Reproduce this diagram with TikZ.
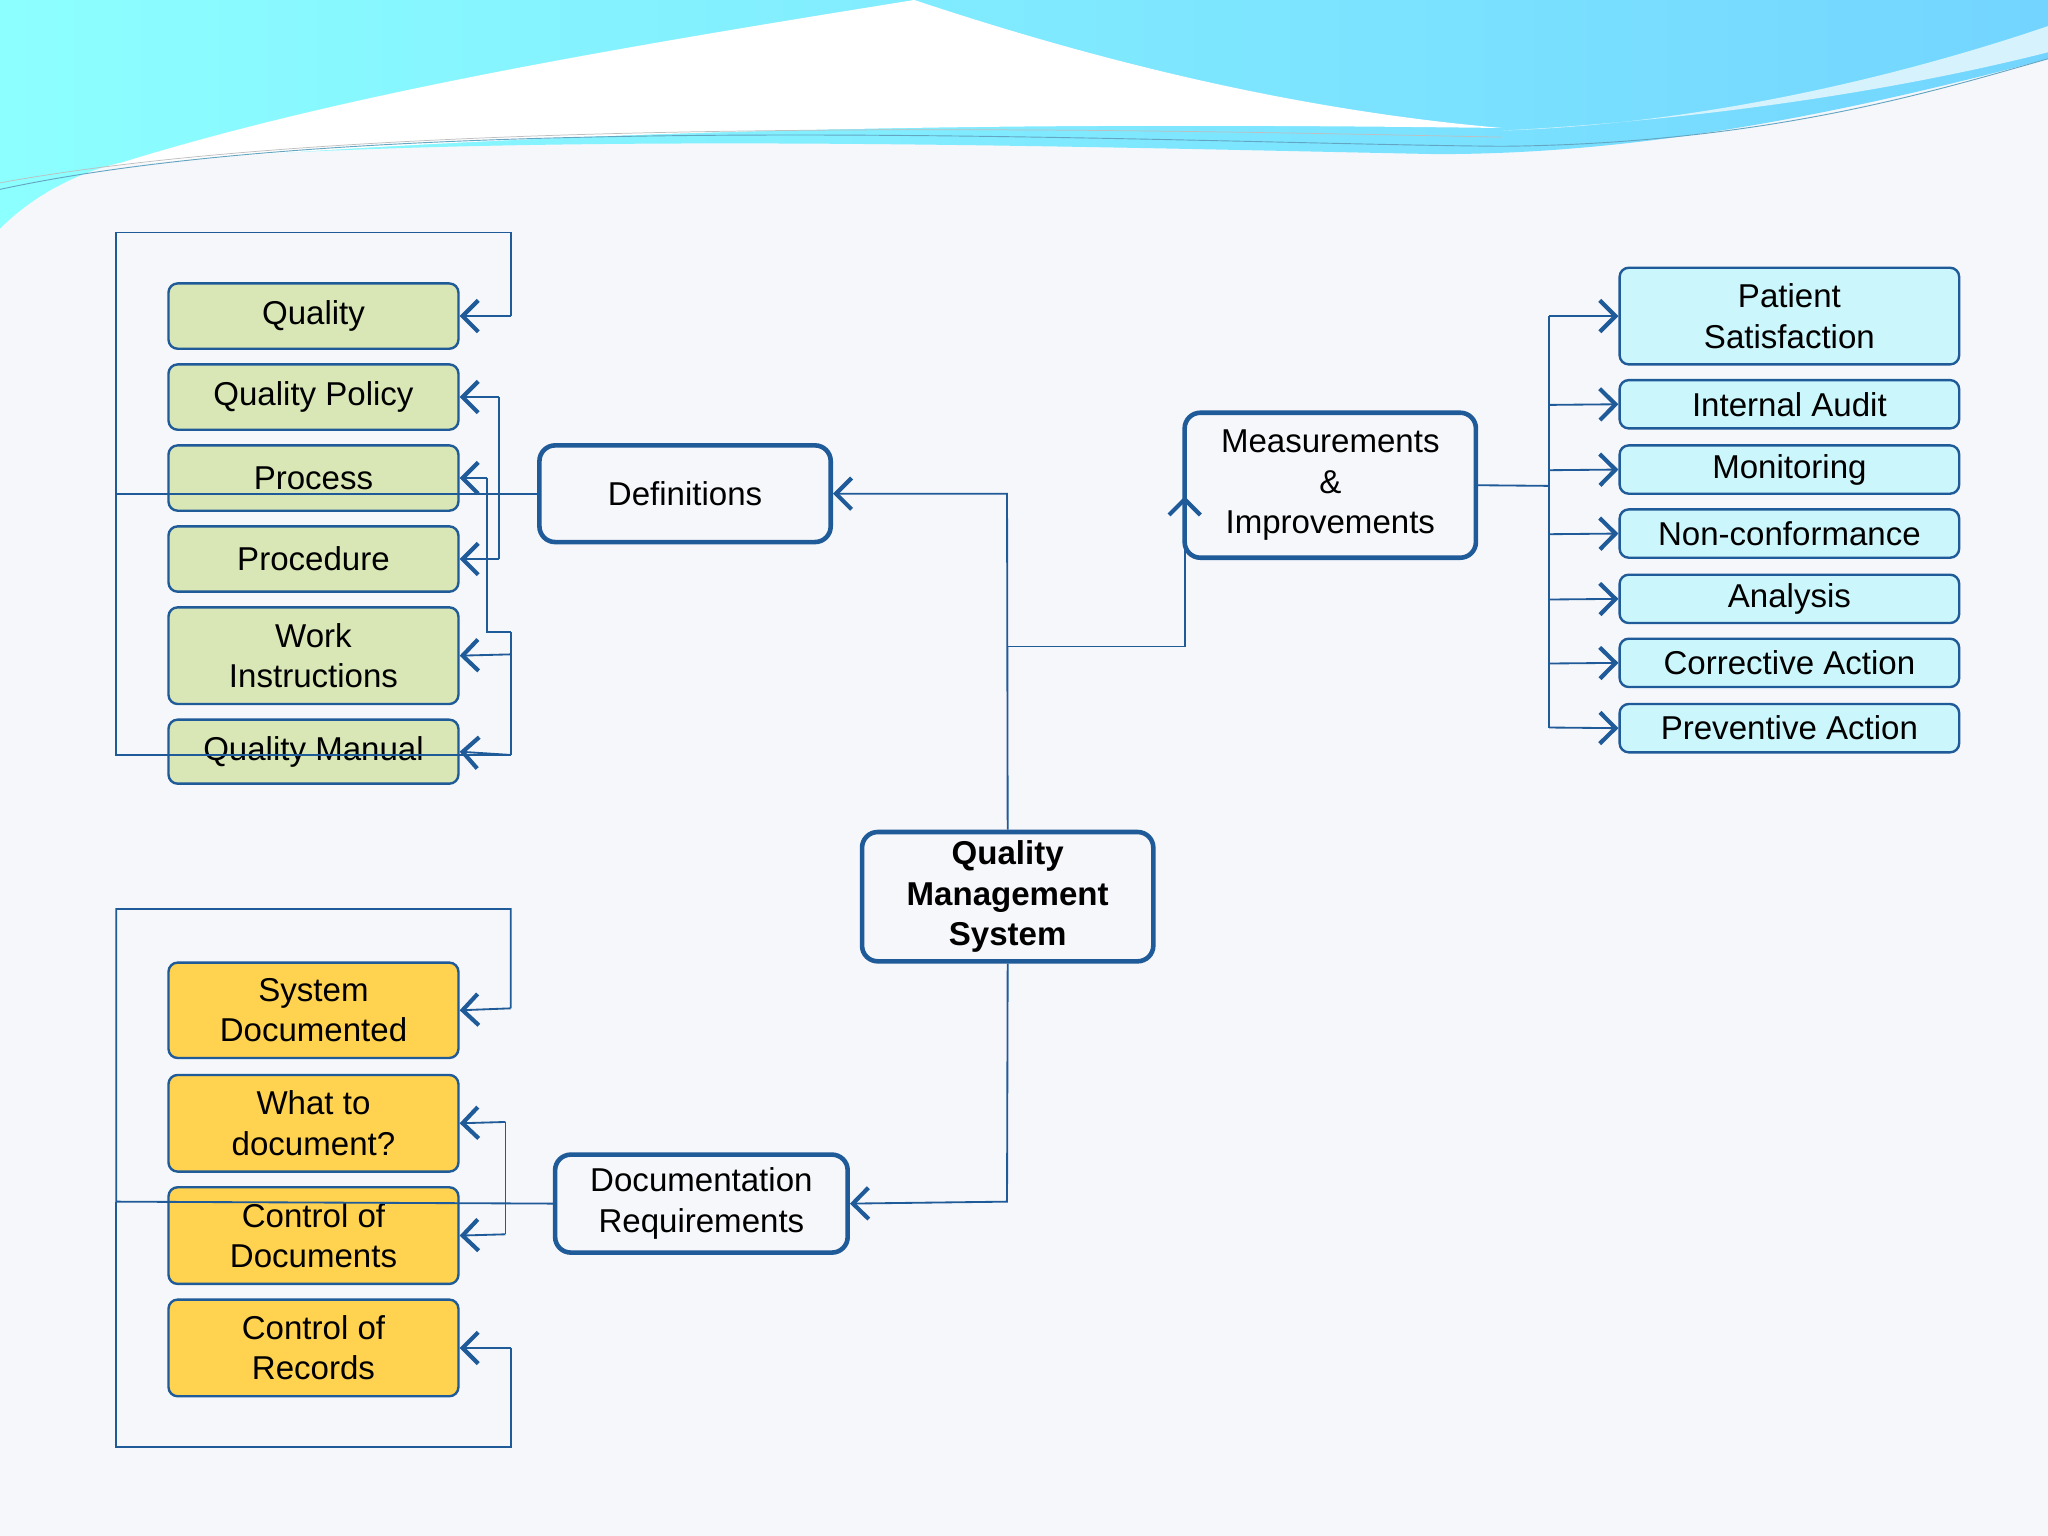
\documentclass[tikz,border=0pt]{standalone}
\usepackage{fontspec}
\setmainfont{Liberation Sans}
\usetikzlibrary{arrows.meta}
\definecolor{ln}{HTML}{1F5A99}
\definecolor{gr}{HTML}{D9E6B5}
\definecolor{yl}{HTML}{FFD24F}
\definecolor{cy}{HTML}{CBF6FB}
\definecolor{bg}{HTML}{F6F7FA}
\newcommand\bx[7]{\node[#6, minimum width={(#4-#2)*0.05cm}, minimum height={(#5-#3)*0.05cm}] (#1) at ({(#2+#4)/2},{(#3+#5)/2}) {#7};}
\begin{document}
\begin{tikzpicture}[x=0.05cm,y=-0.05cm,
  every node/.style={font=\fontsize{36}{44}\selectfont, align=center, inner sep=0pt},
  sb/.style={draw=ln, line width=2.6pt, rounded corners=0.35cm},
  gb/.style={sb, fill=gr}, yb/.style={sb, fill=yl}, cb/.style={sb, fill=cy},
  mb/.style={draw=ln, line width=5pt, rounded corners=0.6cm, fill=bg},
  qb/.style={mb, font=\fontsize{36}{44}\selectfont\bfseries},
  cn/.style={draw=ln, line width=2pt},
  ar/.style={cn, -{Straight Barb[length=0.6cm,width=1.2cm,line width=4.5pt]}}]
\useasboundingbox (0,0) rectangle (1568,1176);
\fill[bg] (0,0) rectangle (1568,1176);
% top wave
\shade[left color=cyan!45, right color=blue!30!cyan!55] (0,0) -- (1568,0) -- (1568,45)
  .. controls (1400,90) and (1250,118) .. (1100,118)
  .. controls (800,112) and (400,100) .. (90,125)
  .. controls (50,135) and (20,155) .. (0,175) -- cycle;
\fill[white] (700,0) .. controls (850,50) and (1000,85) .. (1150,98)
  .. controls (900,95) and (500,92) .. (85,127)
  .. controls (250,75) and (450,40) .. (700,0) -- cycle;
\fill[white!60!cyan!40] (1568,20) .. controls (1450,60) and (1300,95) .. (1150,100) .. controls (1300,92) and (1450,70) .. (1568,40) -- cycle;
\draw[cyan!50!gray, line width=1pt] (0,145) .. controls (300,80) and (900,110) .. (1150,112) .. controls (1350,110) and (1480,70) .. (1568,45);
\draw[gray!50, line width=0.8pt] (0,140) .. controls (300,85) and (900,100) .. (1150,105);

% left green
\bx{qa}{129}{217}{351}{267}{gb}{Quality}
\bx{qp}{129}{279}{351}{329}{gb}{Quality Policy}
\bx{pr}{129}{341}{351}{391}{gb}{Process}
\bx{pd}{129}{403}{351}{453}{gb}{Procedure}
\bx{wi}{129}{465}{351}{539}{gb}{Work\\Instructions}
\bx{qm}{129}{551}{351}{600}{gb}{Quality Manual}
% yellow
\bx{sd}{129}{737}{351}{810}{yb}{System\\Documented}
\bx{wd}{129}{823}{351}{897}{yb}{What to\\document?}
\bx{cd}{129}{909}{351}{983}{yb}{Control of\\Documents}
\bx{cr}{129}{995}{351}{1069}{yb}{Control of\\Records}
% right cyan
\bx{ps}{1240}{205}{1500}{279}{cb}{Patient\\Satisfaction}
\bx{ia}{1240}{291}{1500}{328}{cb}{Internal Audit}
\bx{mo}{1240}{341}{1500}{378}{cb}{Monitoring}
\bx{nc}{1240}{390}{1500}{427}{cb}{Non-conformance}
\bx{an}{1240}{440}{1500}{477}{cb}{Analysis}
\bx{ca}{1240}{489}{1500}{526}{cb}{Corrective Action}
\bx{pa}{1240}{539}{1500}{576}{cb}{Preventive Action}
% main
\bx{de}{413}{341}{636}{415}{mb}{Definitions}
\bx{dr}{425}{884}{649}{959}{mb}{Documentation\\Requirements}
\bx{me}{907}{316}{1130}{427}{mb}{Measurements\\\&\\Improvements}
\bx{qms}{660}{637}{883}{736}{qb}{Quality\\Management\\System}

% QMS connections
\draw[ar] (qms.north) -- (771,378) -- (de.east);
\draw[ar] (771,495) -- (907,495) -- (907,380);
\draw[ar] (qms.south) -- (771,920) -- (dr.east);

% Definitions tree
\draw[cn] (de.west) -- (89,378) -- (89,178) -- (391,178) -- (391,242);
\draw[ar] (391,242) -- (qa.east);
\draw[cn] (89,378) -- (89,578) -- (391,578);
\draw[ar] (391,578) -- (qm.east);
\draw[cn] (391,578) -- (391,484);
\draw[ar] (391,501) -- (wi.east);
\draw[cn] (382,304) -- (382,428);
\draw[ar] (382,304) -- (qp.east);
\draw[ar] (382,428) -- (pd.east);
\draw[cn] (391,484) -- (373,484) -- (373,366);
\draw[ar] (373,366) -- (pr.east);

% Documentation tree
\draw[cn] (dr.west) -- (89,920) -- (89,696) -- (391,696) -- (391,772);
\draw[ar] (391,772) -- (sd.east);
\draw[cn] (89,920) -- (89,1108) -- (391,1108) -- (391,1032);
\draw[ar] (391,1032) -- (cr.east);
\draw[cn] (387,859) -- (387,945);
\draw[ar] (387,859) -- (wd.east);
\draw[ar] (387,945) -- (cd.east);

% Measurements tree
\draw[cn] (me.east) -- (1186,372);
\draw[cn] (1186,242) -- (1186,557);
\draw[ar] (1186,242) -- (ps.west);
\draw[ar] (1186,310) -- (ia.west);
\draw[ar] (1186,360) -- (mo.west);
\draw[ar] (1186,409) -- (nc.west);
\draw[ar] (1186,459) -- (an.west);
\draw[ar] (1186,508) -- (ca.west);
\draw[ar] (1186,557) -- (pa.west);
\end{tikzpicture}
\end{document}
